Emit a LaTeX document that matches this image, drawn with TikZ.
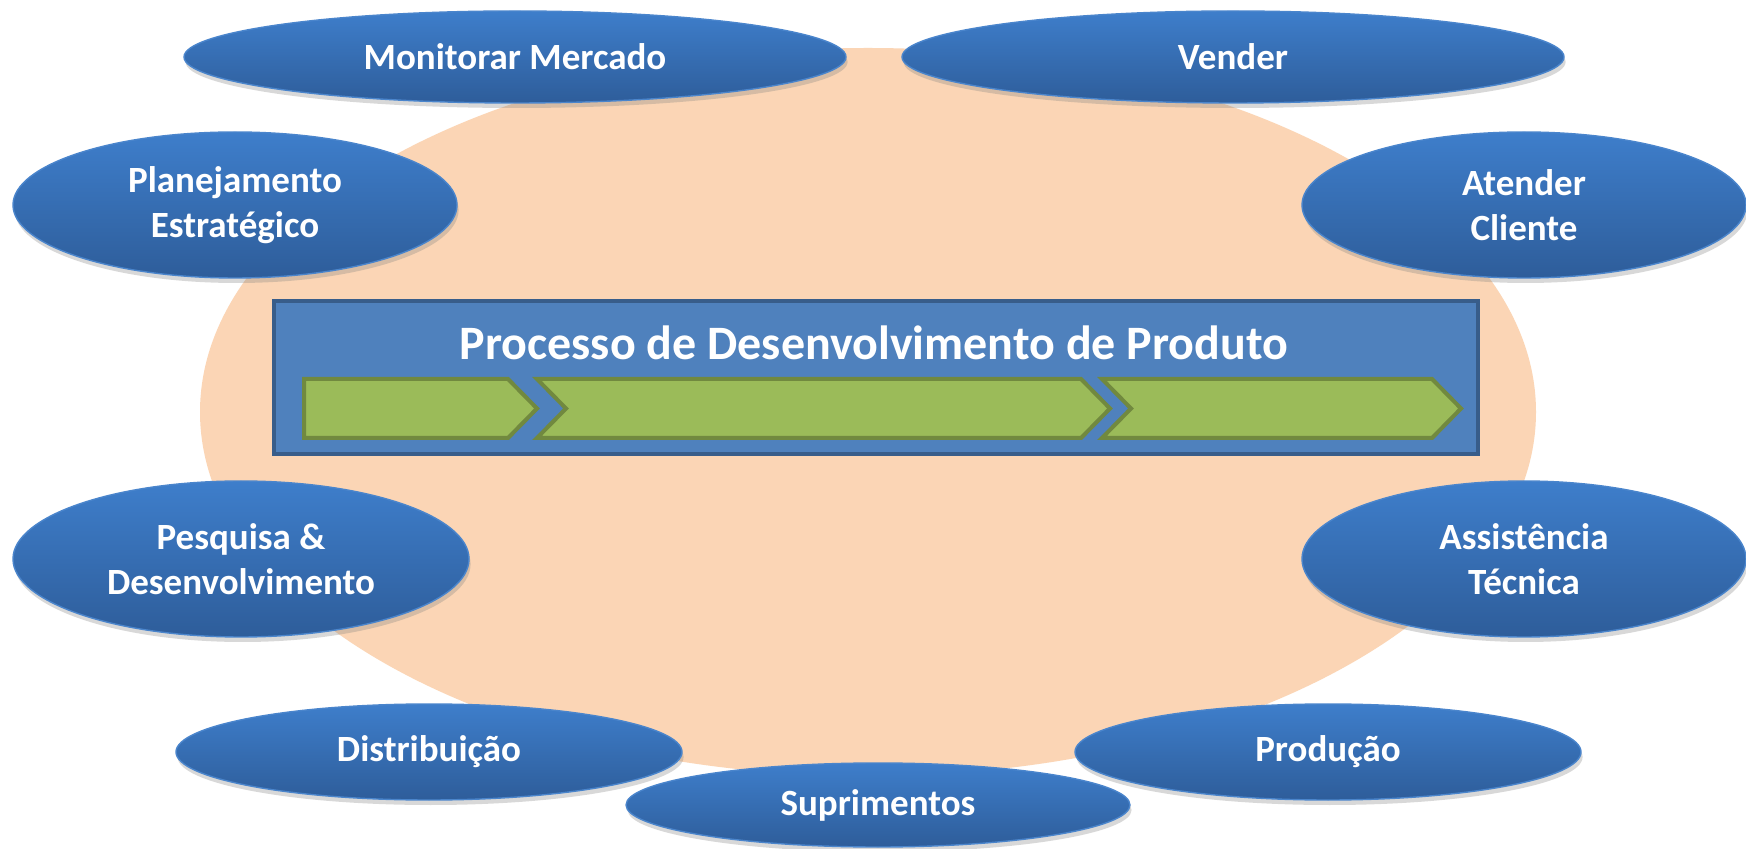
\documentclass[tikz,border=0pt]{standalone}
\usepackage{fontspec}
\setmainfont{Carlito}
\usetikzlibrary{shapes.geometric,shadows}

\begin{document}
\begin{tikzpicture}[x=0.5pt, y=-0.5pt,
	%Option for the process ellipses
	task/.style={ellipse, draw=taskline, line width=0.7pt, top color=tasktop, bottom color=taskbottom,
		text=white, inner sep=0pt, align=center, font=\bfseries\fontsize{18.5}{22.5}\selectfont,
		drop shadow={shadow xshift=0.8pt, shadow yshift=-2.5pt, opacity=0.3}},
	phase/.style={fill=phasefill, draw=phaseline, line width=2pt, line join=miter},
	]
	% Colors
	\definecolor{peach}{HTML}{FBD5B5}
	\definecolor{boxfill}{HTML}{4F81BD}
	\definecolor{boxline}{HTML}{385D8A}
	\definecolor{phasefill}{HTML}{9BBB59}
	\definecolor{phaseline}{HTML}{71893F}
	\definecolor{tasktop}{HTML}{3E7ECB}
	\definecolor{taskbottom}{HTML}{2E5D9A}
	\definecolor{taskline}{HTML}{4A85CC}
	
	% Frame
	\useasboundingbox[fill=white] (0,0) rectangle (1746,849);
	
	% Company background
	\fill[peach] (868,412) ellipse [x radius=334pt, y radius=182pt];
	
	% Product development process
	\draw[fill=boxfill, draw=boxline, line width=2pt] (274,301) rectangle (1478,454);
	\node[text=white, font=\bfseries\fontsize{24}{30}\selectfont] (pdp) at (874,343)
	{Processo de Desenvolvimento de Produto};
	
	%Phases
	\foreach \a/\b/\notch in {304/508/0, 537/1081/29, 1102/1432/29}
	\draw[phase] (\a,379) -- (\b,379) -- ++(29,29.5) -- (\b,438) -- (\a,438)
	-- ++(\notch,-29.5) -- cycle;
	
	% Business processes around
	\node[task, minimum width=331pt, minimum height=46pt] (monitorar)    at (515,57)   {Monitorar Mercado};
	\node[task, minimum width=331pt, minimum height=46pt] (vender)       at (1233,57)  {Vender};
	\node[task, minimum width=222pt, minimum height=73pt] (planejamento) at (235,205)  {Planejamento\\Estratégico};
	\node[task, minimum width=222pt, minimum height=73pt] (atender)      at (1524,205) {Atender\\Cliente};
	\node[task, minimum width=228pt, minimum height=78pt] (pesquisa)     at (241,559)  {Pesquisa \&\\Desenvolvimento};
	\node[task, minimum width=222pt, minimum height=78pt] (assistencia)  at (1524,559) {Assistência\\Técnica};
	\node[task, minimum width=253pt, minimum height=48pt] (distribuicao) at (429,752)  {Distribuição};
	\node[task, minimum width=253pt, minimum height=48pt] (producao)     at (1328,752) {Produção};
	\node[task, minimum width=252pt, minimum height=42pt] (suprimentos)  at (878,805)  {Suprimentos};
\end{tikzpicture}
\end{document}
